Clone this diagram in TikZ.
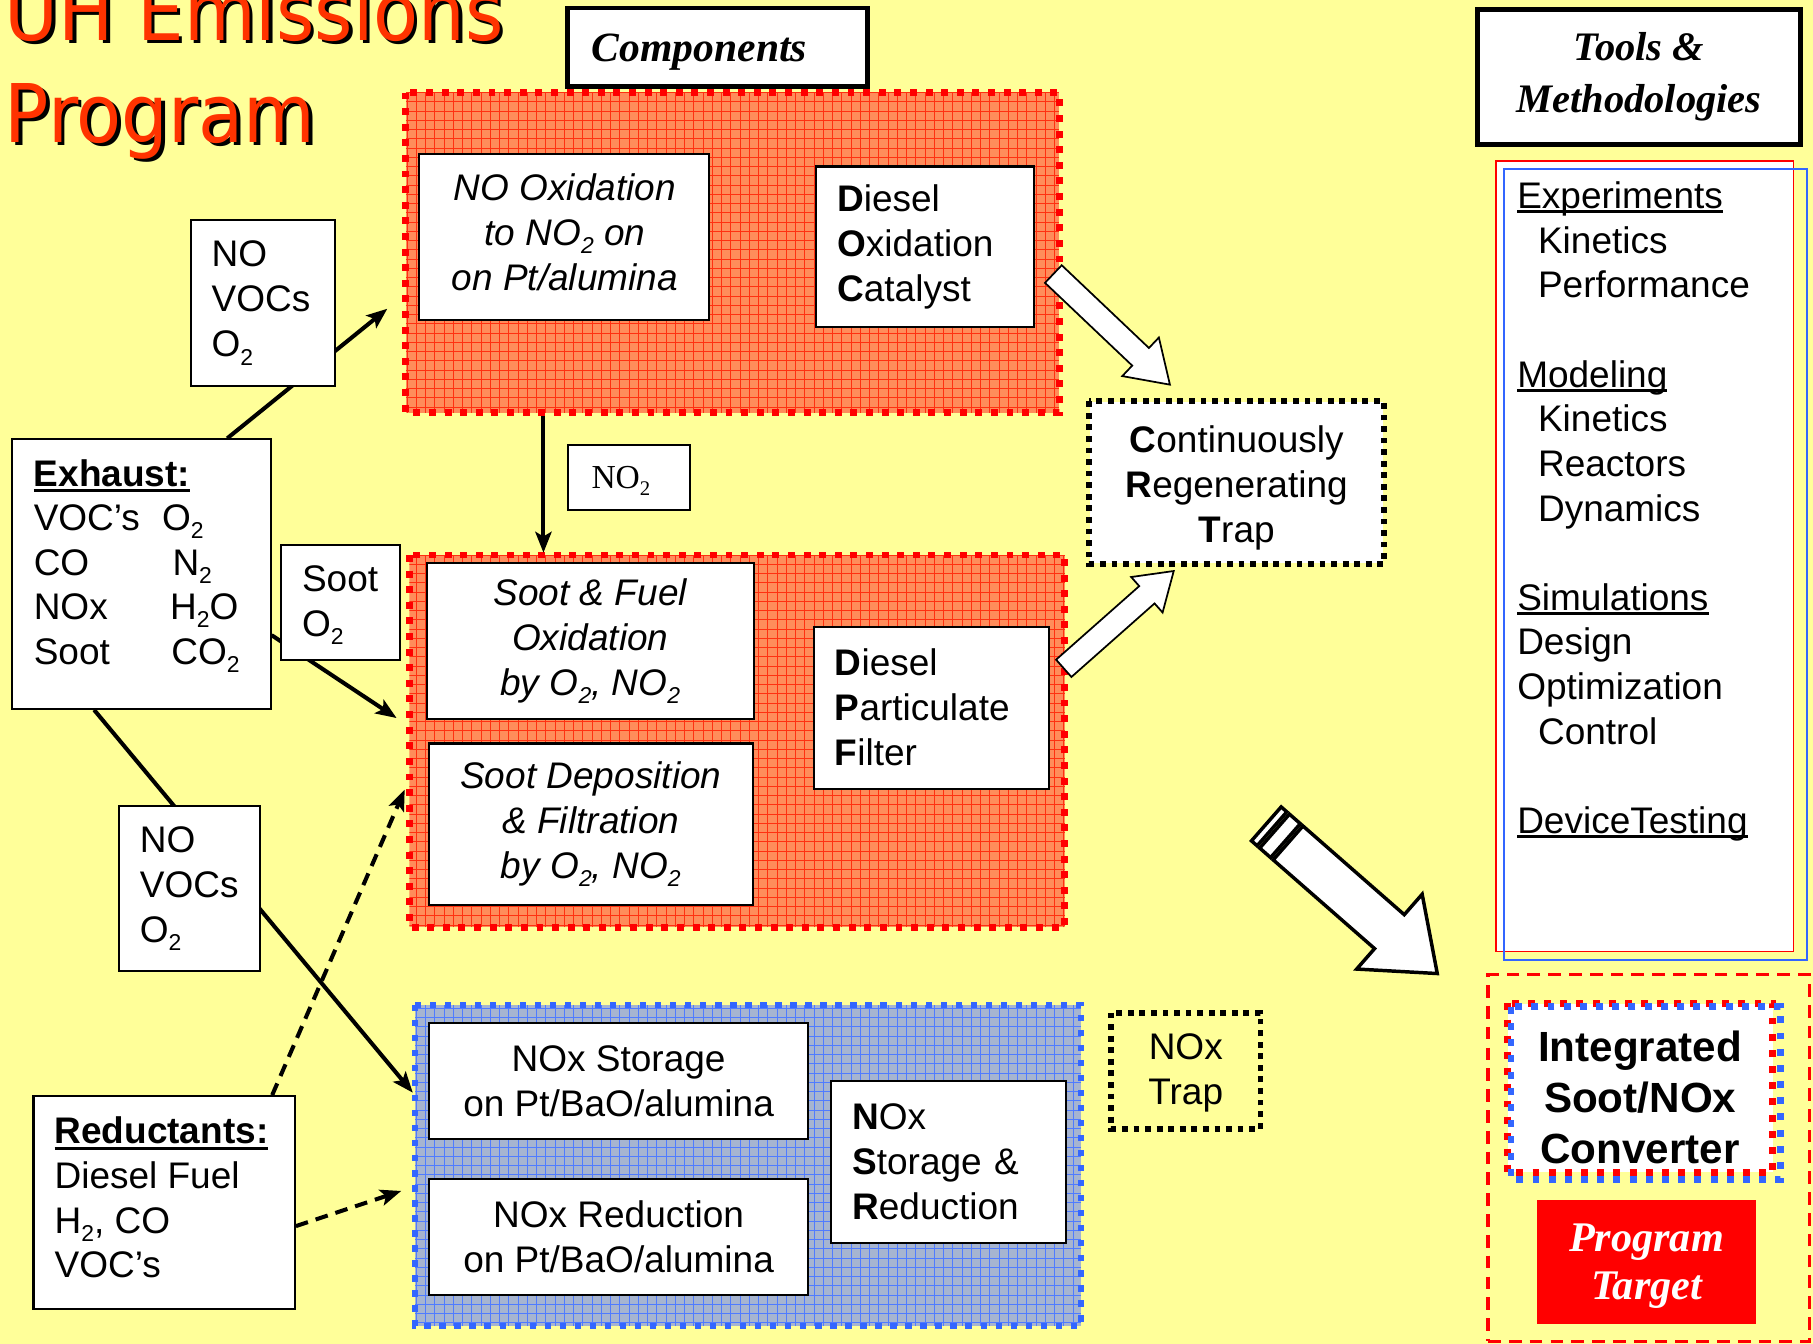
\documentclass[tikz,border=0pt]{standalone}
\usepackage{fontspec}
\setmainfont{Liberation Sans}
\newfontfamily\serifnt{Liberation Serif}
\newfontfamily\titlefnt[FakeStretch=0.91]{DejaVu Sans}
\usetikzlibrary{arrows.meta,calc}
\definecolor{bgyellow}{HTML}{FFFF99}
\definecolor{titlered}{HTML}{FF3300}
\definecolor{orfill}{HTML}{FF8C5A}
\definecolor{orgrid}{HTML}{FF3010}
\definecolor{blfill}{HTML}{A6B4D0}
\definecolor{blgrid}{HTML}{4F7BFF}
\definecolor{dotblue}{HTML}{3366FF}
\newcommand\subs[1]{\raisebox{-0.22em}{\scalebox{0.62}{#1}}}
\newcommand\ulin[2]{\setbox0\hbox{#2}\rlap{\rule[-#1]{\wd0}{2.4pt}}\box0}
\newcommand\barrow[7]{\begin{scope}[shift={(#1,#2)},rotate=#3]
\draw[blk] (0,-#5) -- ({#4-#7},-#5) -- ({#4-#7},-#6) -- (#4,0) -- ({#4-#7},#6) -- ({#4-#7},#5) -- (0,#5) -- cycle;
\end{scope}}
\pgfdeclarelayer{grp}
\pgfdeclarelayer{conn}
\pgfsetlayers{grp,conn,main}
\begin{document}
\begin{tikzpicture}[x=1pt,y=-1pt,
  box/.style={draw=black, line width=1.8pt, fill=white, inner sep=0pt, font=\fontsize{32}{39}\selectfont},
  ibox/.style={box, align=center, font=\fontsize{32}{39}\selectfont\itshape},
  cbox/.style={box, align=center},
  lbox/.style={box, align=left, inner xsep=18pt},
  arr/.style={line width=3.5pt, -{Stealth[length=18pt,width=14pt,inset=4pt]}},
  darr/.style={arr, dash pattern=on 11pt off 7pt},
  blk/.style={draw=black, fill=white, line width=1.5pt, line join=miter},
  txt/.style={inner sep=0pt, align=left, font=\fontsize{32}{38.6}\selectfont},
  grpnode/.style={inner sep=0pt, outer sep=0pt}
]
\useasboundingbox (0,0) rectangle (1568,1162);

\begin{pgfonlayer}{grp}
\fill[bgyellow] (0,0) rectangle (1568,1162);
% group 1
\node[grpnode, minimum width=565pt, minimum height=277pt] (g1) at (633.5,218.5) {};
\begin{scope}
\clip (g1.north west) rectangle (g1.south east);
\fill[orfill] (g1.north west) rectangle (g1.south east);
\draw[orgrid, line width=0.8pt, step=8pt] (g1.north west) grid (g1.south east);
\end{scope}
\draw[red, line width=6pt, dash pattern=on 6pt off 7.5pt] (g1.north west) rectangle (g1.south east);
% group 2
\node[grpnode, minimum width=567pt, minimum height=322pt] (g2) at (637.5,641) {};
\begin{scope}
\clip (g2.north west) rectangle (g2.south east);
\fill[orfill] (g2.north west) rectangle (g2.south east);
\draw[orgrid, line width=0.8pt, step=8pt] (g2.north west) grid (g2.south east);
\end{scope}
\draw[red, line width=6pt, dash pattern=on 6pt off 7.5pt] (g2.north west) rectangle (g2.south east);
% group 3
\node[grpnode, minimum width=576pt, minimum height=278pt] (g3) at (647,1008) {};
\begin{scope}
\clip (g3.north west) rectangle (g3.south east);
\fill[blfill] (g3.north west) rectangle (g3.south east);
\draw[blgrid, line width=0.8pt, step=8pt] (g3.north west) grid (g3.south east);
\end{scope}
\draw[dotblue, line width=5.5pt, dash pattern=on 5.5pt off 7.5pt] (g3.north west) rectangle (g3.south east);
\end{pgfonlayer}

% title
\node[anchor=base west, inner sep=0pt, font=\titlefnt\fontsize{70}{84}\selectfont, text=black] (t1s) at (7,38) {UH Emissions};
\node[anchor=base west, inner sep=0pt, font=\titlefnt\fontsize{70}{84}\selectfont, text=titlered] (t1) at (4,35) {UH Emissions};
\node[anchor=base west, inner sep=0pt, font=\titlefnt\fontsize{70}{84}\selectfont, text=black] (t2s) at (7,126) {Program};
\node[anchor=base west, inner sep=0pt, font=\titlefnt\fontsize{70}{84}\selectfont, text=titlered] (t2) at (4,123) {Program};

% components header
\node[box, line width=4pt, minimum width=259pt, minimum height=68pt] (comp) at (620.5,41) {};
\node[inner sep=0pt, font=\serifnt\bfseries\itshape\fontsize{36}{42}\selectfont] (comptxt) at (605,45) {Components};

% tools header
\node[box, line width=4pt, minimum width=279pt, minimum height=117pt, align=center, font=\serifnt\bfseries\itshape\fontsize{35}{45}\selectfont] (tools) at (1417.5,66.5) {Tools \&\\Methodologies};

% group 1 boxes
\node[box, minimum width=251pt, minimum height=144pt] (noox) at (487.5,205) {};
\node[inner sep=0pt, align=center, font=\fontsize{32}{39}\selectfont\itshape] (nooxtxt) at (488.5,201) {NO Oxidation\\to NO\subs{2} on\\on Pt/alumina};
\node[lbox, text width=152pt, minimum width=188pt, minimum height=139pt] (doc) at (800,213.5) {\textbf{D}iesel\\\textbf{O}xidation\\\textbf{C}atalyst};

% group 2 boxes
\node[ibox, minimum width=283pt, minimum height=135pt] (sfo) at (510.5,554.5) {Soot \& Fuel\\Oxidation\\by O\subs{2}, NO\subs{2}};
\node[ibox, minimum width=280pt, minimum height=140pt] (sdf) at (511,713) {Soot Deposition\\\& Filtration\\by O\subs{2}, NO\subs{2}};
\node[lbox, text width=167pt, minimum width=203pt, minimum height=140pt] (dpf) at (805.5,612) {\textbf{D}iesel\\\textbf{P}articulate\\\textbf{F}ilter};

% group 3 boxes
\node[cbox, minimum width=328pt, minimum height=100pt] (nst) at (535,935) {NOx Storage\\on Pt/BaO/alumina};
\node[cbox, minimum width=328pt, minimum height=100pt] (nre) at (535,1070) {NOx Reduction\\on Pt/BaO/alumina};
\node[lbox, text width=167pt, minimum width=203pt, minimum height=140pt] (nsr) at (820.5,1005) {\textbf{N}Ox\\\textbf{S}torage \&\\\textbf{R}eduction};

% CRT and NOx trap
\node[box, draw=none, minimum width=253pt, minimum height=139pt] (crt) at (1069.5,417.5) {};
\node[inner sep=0pt, align=center, font=\fontsize{32}{39}\selectfont] (crttxt) at (1069.5,422) {\textbf{C}ontinuously\\\textbf{R}egenerating\\\textbf{T}rap};
\draw[black, line width=5pt, dash pattern=on 5pt off 5pt] (crt.north west) rectangle (crt.south east);
\node[align=center, inner sep=0pt, minimum width=129pt, minimum height=100pt, font=\fontsize{32}{39}\selectfont] (ntrap) at (1025.5,928) {NOx\\Trap};
\draw[black, line width=5pt, dash pattern=on 5pt off 5pt] ($(ntrap.north west)+(0,-2)$) rectangle ($(ntrap.south east)+(0,-2)$);

% NO2 label
\node[box, minimum width=106pt, minimum height=56pt] (no2box) at (544,413) {};
\node[inner sep=0pt, font=\serifnt\fontsize{29}{34}\selectfont] (no2txt) at (537,416) {NO\subs{2}};

% left boxes
\node[lbox, text width=89pt, minimum width=125pt, minimum height=144pt] (nob1) at (227.5,262) {NO\\VOCs\\O\subs{2}};
\node[box, minimum width=224pt, minimum height=233pt] (exh) at (122,496.5) {};
\node[txt, anchor=north west, font=\fontsize{32}{38.5}\selectfont] (exhtxt) at (29,397) {\ulin{5pt}{\textbf{Exhaust:}}\\\makebox[111pt][l]{VOC’s}O\subs{2}\\\makebox[120pt][l]{CO}N\subs{2}\\\makebox[118pt][l]{NOx}H\subs{2}O\\\makebox[119pt][l]{Soot}CO\subs{2}};
\node[box, minimum width=103pt, minimum height=100pt] (soot) at (294.5,521) {};
\node[txt, anchor=north west, font=\fontsize{32}{39}\selectfont] (soottxt) at (261,489) {Soot\\O\subs{2}};
\node[lbox, text width=86pt, inner xsep=18pt, minimum width=122pt, minimum height=143pt] (nob2) at (164,768.5) {NO\\VOCs\\O\subs{2}};
\node[box, minimum width=226pt, minimum height=184pt] (red) at (142,1040) {};
\node[txt, anchor=north west, font=\fontsize{32}{38.5}\selectfont] (redtxt) at (47,966) {\ulin{5pt}{\textbf{Reductants:}}\\Diesel Fuel\\H\subs{2}, CO\\VOC’s};

% tools list
\node[draw=red, line width=1.5pt, fill=white, minimum width=257pt, minimum height=684pt, inner sep=0pt] (listr) at (1422.5,481) {};
\node[draw=dotblue, line width=1.5pt, minimum width=262pt, minimum height=684pt, inner sep=0pt] (listb) at (1432,488) {};
\node[txt, anchor=north west] (listtxt) at (1312,157) {\ulin{4pt}{Experiments}\\\hspace*{18pt}Kinetics\\\hspace*{18pt}Performance\\~\\\ulin{4pt}{Modeling}\\\hspace*{18pt}Kinetics\\\hspace*{18pt}Reactors\\\hspace*{18pt}Dynamics\\~\\\ulin{4pt}{Simulations}\\Design\\Optimization\\\hspace*{18pt}Control\\~\\\ulin{4pt}{DeviceTesting}};

% integrated converter
\node[draw=red, line width=3pt, dash pattern=on 11pt off 7pt, minimum width=278pt, minimum height=317pt, inner sep=0pt] (integ) at (1426,1001.5) {};
\node[fill=white, minimum width=229pt, minimum height=146pt, inner sep=0pt] (intbox) at (1418.5,941) {};
\draw[red, line width=6pt, dash pattern=on 6pt off 8pt] (intbox.north west) rectangle (intbox.south east);
\draw[dotblue, line width=6pt, dash pattern=on 6pt off 8pt] ($(intbox.north west)+(3,3)$) rectangle ($(intbox.south east)+(7,6)$);
\node[inner sep=0pt, align=center, font=\bfseries\fontsize{36.5}{44}\selectfont] (inttxt) at (1418.5,949) {Integrated\\Soot/NOx\\Converter};
\node[fill=red, minimum width=190pt, minimum height=107pt, inner sep=0pt] (target) at (1424,1091.5) {};
\node[inner sep=0pt, align=center, text=white, font=\serifnt\bfseries\itshape\fontsize{36.5}{42}\selectfont] (targettxt) at (1424,1095) {Program\\Target};

% connectors
\coordinate (tipA) at (335,267);
\coordinate (tipB) at (343,621);
\coordinate (tipC) at (357,945);
\coordinate (tipD) at (350,683);
\coordinate (tipE) at (347,1030);
\begin{pgfonlayer}{conn}
\draw[arr] ($(exh.north west)!0.83!(exh.north east)$) -- (tipA);
\draw[arr] ($(exh.north east)!0.725!(exh.south east)$) -- (tipB);
\draw[arr] ($(exh.south west)!0.32!(exh.south east)$) -- (tipC);
\draw[darr] ($(red.north west)!0.91!(red.north east)$) -- (tipD);
\draw[darr] ($(red.north east)!0.61!(red.south east)$) -- (tipE);
\draw[arr] ($(g1.south west)+(119,3)$) -- ($(g2.north west)+(116,-2)$);
\end{pgfonlayer}

% block arrows
\barrow{911}{237}{-43.5}{139}{10.5}{23}{35}
\barrow{920}{578}{41.5}{127}{10}{20.5}{31}
\begin{scope}[shift={(1114,729)},rotate=-41.2]
\draw[blk, line width=3pt] (-15.5,-19.5) rectangle (-3,19.5);
\draw[blk, line width=3pt] (-25,-19.5) rectangle (-18.5,19.5);
\end{scope}
\begin{scope}[blk/.append style={line width=3pt}]
\barrow{1114}{729}{-41.2}{171.5}{19.5}{43}{55}
\end{scope}
\end{tikzpicture}
\end{document}
